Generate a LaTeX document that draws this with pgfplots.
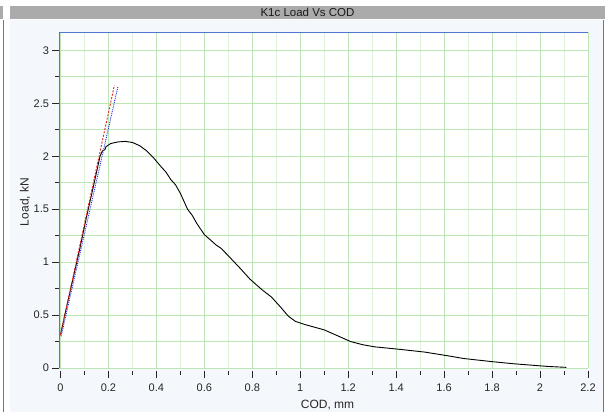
\documentclass[border=0pt]{standalone}
\usepackage{pgfplots}
\pgfplotsset{compat=1.18}
\usepackage{fontspec}
\setmainfont{Liberation Sans}
\definecolor{panelbg}{RGB}{244,247,251}
\definecolor{titlegrey}{RGB}{171,171,171}
\definecolor{frameblue}{RGB}{80,120,205}
\definecolor{gridmaj}{RGB}{188,230,178}
\definecolor{gridmin}{RGB}{222,243,217}
\definecolor{fitred}{RGB}{235,30,30}
\definecolor{fitblue}{RGB}{30,40,235}

\begin{document}
\begin{tikzpicture}
\path[use as bounding box] (0pt,0pt) rectangle (610pt,412pt);
% window frame
\fill[white] (0pt,0pt) rectangle (610pt,412pt);
\fill[panelbg] (10pt,0pt) rectangle (603pt,392pt);
\fill[titlegrey] (10pt,393pt) rectangle (605pt,406pt);
\fill[titlegrey] (0pt,393pt) rectangle (3pt,406pt);
\draw[frameblue, line width=0.8pt] (3.5pt,0pt) -- (3.5pt,392pt);
\draw[frameblue, line width=0.8pt] (603.5pt,0pt) -- (603.5pt,392pt);
\node[font=\fontsize{11.5}{12}\selectfont, text=black!90] at (307.5pt,399.5pt) {K1c Load Vs COD};

\begin{axis}[
  at={(59pt,44pt)}, anchor=south west,
  scale only axis,
  width=529pt, height=336pt,
  xmin=-0.006, xmax=2.2,
  ymin=0, ymax=3.173,
  xtick={0,0.2,...,2.21},
  ytick={0,0.5,...,3.01},
  minor tick num=1,
  grid=both,
  major x grid style={gridmaj, line width=0.8pt},
  minor x grid style={gridmin, line width=0.8pt},
  major y grid style={gridmaj, line width=0.8pt},
  minor y grid style={gridmaj, line width=0.8pt},
  axis background/.style={fill=white},
  axis line style={draw=none},
  tick align=outside,
  major tick length=6.5pt,
  minor tick length=3.5pt,
  tick style={black!85, line width=0.8pt},
  x tick style={yshift=-3pt},
  xtick pos=bottom, ytick pos=left,
  tick label style={font=\fontsize{11}{12}\selectfont, text=black!85},
  xticklabel style={yshift=-6pt},
  /pgf/number format/assume math mode=true,
  /pgf/number format/fixed,
  xlabel={COD, mm},
  ylabel={Load, kN},
  label style={font=\fontsize{12}{13}\selectfont, text=black!85},
  xlabel style={at={([xshift=4pt,yshift=-37pt]axis description cs:0.5,0)}, anchor=center},
  ylabel style={at={([xshift=-34pt,yshift=-2pt]axis description cs:0,0.5)}, anchor=center},
]
% load vs COD record
\addplot[black, line width=0.9pt] coordinates {
  (0.000,0.31) (0.02,0.52) (0.05,0.82) (0.08,1.12) (0.11,1.44)
  (0.14,1.74) (0.165,2.00) (0.175,2.05) (0.185,2.06) (0.19,2.09) (0.21,2.12)
  (0.24,2.135) (0.27,2.14) (0.30,2.13) (0.33,2.10) (0.36,2.05)
  (0.39,1.98) (0.42,1.90) (0.44,1.85) (0.46,1.78) (0.48,1.73) (0.50,1.65)
  (0.53,1.50) (0.55,1.44) (0.57,1.36) (0.60,1.26) (0.65,1.16)
  (0.67,1.13) (0.70,1.06) (0.75,0.94) (0.79,0.84) (0.84,0.74)
  (0.88,0.67) (0.92,0.57) (0.95,0.49) (0.98,0.44) (1.02,0.41)
  (1.10,0.36) (1.15,0.31) (1.21,0.25) (1.26,0.22) (1.31,0.20)
  (1.42,0.175) (1.52,0.15) (1.63,0.11) (1.68,0.09) (1.80,0.06)
  (1.89,0.04) (2.03,0.015) (2.11,0.006)
};
% fitted lines
\addplot[fitblue, line width=0.9pt, densely dotted] coordinates {(0.003,0.30) (0.240,2.66)};
\addplot[fitred, line width=0.9pt, dash pattern=on 2pt off 1.5pt] coordinates {(0.0,0.31) (0.225,2.67)};
% plot frame: blue left and top edges
\draw[frameblue, line width=0.9pt] (rel axis cs:0,0) -- (rel axis cs:0,1) -- (rel axis cs:1,1);
\end{axis}
\end{tikzpicture}
\end{document}
